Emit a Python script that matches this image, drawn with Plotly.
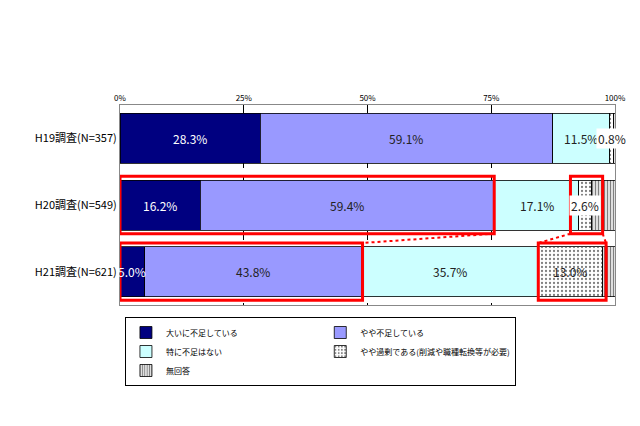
import plotly.graph_objects as go

categories = ["H19調査(N=357)", "H20調査(N=549)", "H21調査(N=621)"]
series_names = ["大いに不足している", "やや不足している", "特に不足はない",
                "やや過剰である(削減や職種転換等が必要)", "無回答"]
very_short = [28.3, 16.2, 5.0]
somewhat_short = [59.1, 59.4, 43.8]
no_shortage = [11.5, 17.1, 35.7]
excess = [0.8, 2.6, 13.0]
no_answer = [0.3, 4.7, 2.5]
tick_vals = [0, 25, 50, 75, 100]
tick_text = ["0%", "25%", "50%", "75%", "100%"]

colors = ["#000080", "#9999FF", "#CCFFFF", "white", "#808080"]
patterns = ["", "", "", ".", "|"]
text_colors = ["white", "#222222", "#222222", "#222222", "#222222"]
all_series = [very_short, somewhat_short, no_shortage, excess, no_answer]

fig = go.Figure()
for i, (name, vals) in enumerate(zip(series_names, all_series)):
    fig.add_trace(go.Bar(
        y=categories, x=vals, name=name, orientation="h",
        marker=dict(color=colors[i], line=dict(color="black", width=0.8),
                    pattern=dict(shape=patterns[i], fgcolor="black",
                                 bgcolor=colors[i] if i < 4 else "white",
                                 size=4 if i == 3 else 3, solidity=0.25 if i == 3 else 0.5)),
    ))

# value labels centred on each segment
for j, cat in enumerate(categories):
    left = 0
    for i in range(4):
        v = all_series[i][j]
        fig.add_annotation(x=left + v / 2, y=cat, xref="x", yref="y", text=f"{v:.1f}%",
                           showarrow=False, font=dict(color=text_colors[i], size=12),
                           bgcolor="white" if (i == 3 and v < 5) else None)
        left += v

red = dict(color="red", width=3)
fig.add_shape(type="rect", xref="x", yref="y", x0=0, x1=75.6, y0=0.57, y1=1.43, line=red)
fig.add_shape(type="rect", xref="x", yref="y", x0=91, x1=97.5, y0=0.57, y1=1.43, line=red)
fig.add_shape(type="rect", xref="x", yref="y", x0=0, x1=49, y0=1.57, y1=2.43, line=red)
fig.add_shape(type="rect", xref="x", yref="y", x0=84.5, x1=98.2, y0=1.57, y1=2.43, line=red)
dot = dict(color="red", width=2, dash="dot")
fig.add_shape(type="line", xref="x", yref="y", x0=75.6, y0=1.43, x1=49, y1=1.57, line=dot)
fig.add_shape(type="line", xref="x", yref="y", x0=91, y0=1.43, x1=84.5, y1=1.57, line=dot)
fig.add_shape(type="line", xref="x", yref="y", x0=97.5, y0=1.43, x1=98.2, y1=1.57, line=dot)

fig.update_layout(
    barmode="stack", bargap=0.25, width=640, height=426,
    plot_bgcolor="white", paper_bgcolor="white",
    font=dict(family="Noto Sans CJK JP", size=11, color="black"),
    margin=dict(l=112, r=33, t=97, b=129), showlegend=True,
    legend=dict(orientation="h", x=0.01, xanchor="left", y=-0.06, yanchor="top",
                bordercolor="black", borderwidth=1, font=dict(size=8),
                traceorder="normal", itemwidth=30, entrywidthmode="pixels", entrywidth=0,
                tracegroupgap=0),
)
fig.update_xaxes(range=[0, 100], side="top", tickvals=tick_vals, ticktext=tick_text,
                 tickfont=dict(size=8), showgrid=True, gridcolor="black", griddash="dash",
                 gridwidth=0.5, showline=True, linecolor="#888", mirror=True, zeroline=False)
fig.update_yaxes(autorange="reversed", showline=True, linecolor="#888", mirror=True,
                 ticks="", tickfont=dict(size=11))

fig.write_html("out.html")
